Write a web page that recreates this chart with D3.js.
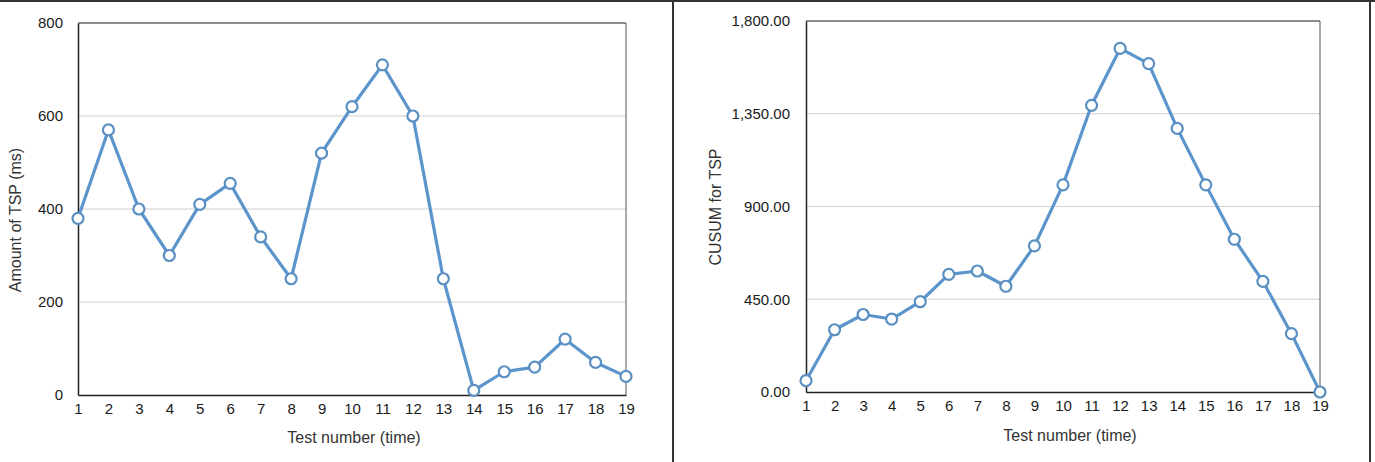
<!DOCTYPE html>
<html>
<head>
<meta charset="utf-8">
<script src="https://cdn.jsdelivr.net/npm/d3@7"></script>
<style>
    body { margin: 0; background: #fff; }
    svg text { font-family: "Liberation Sans", Arial, sans-serif; }
</style>
</head>
<body>
<svg id="chart" width="1375" height="462"></svg>
<script>
// test numbers shared by both charts
var testNumbers = [1, 2, 3, 4, 5, 6, 7, 8, 9, 10, 11, 12, 13, 14, 15, 16, 17, 18, 19];

// left chart: amount of TSP (ms)
var tspValues = [380, 570, 400, 300, 410, 455, 340, 250, 520, 620, 710, 600, 250, 10, 50, 60, 120, 70, 40];
var tspTicks = [0, 200, 400, 600, 800];

// right chart: CUSUM for TSP
var cusumValues = [55, 302, 376, 354, 438, 571, 587, 513, 709, 1005, 1391, 1667, 1593, 1279, 1005, 741, 537, 283, 0];
var cusumTicks = [0, 450, 900, 1350, 1800];

var svg = d3.select("#chart");
var lineColor = "#5b95cc";

// frame around the picture and the divider between the two panels
svg.append("line").attr("x1", 0).attr("x2", 1375).attr("y1", 1).attr("y2", 1)
    .attr("stroke", "#333").attr("stroke-width", 2);
svg.append("line").attr("x1", 1370).attr("x2", 1370).attr("y1", 0).attr("y2", 462)
    .attr("stroke", "#333").attr("stroke-width", 2);
svg.append("line").attr("x1", 673).attr("x2", 673).attr("y1", 0).attr("y2", 462)
    .attr("stroke", "#333").attr("stroke-width", 2);

function drawPanel(opts) {
    var x = d3.scaleLinear()
        .domain([1, 19])
        .range([opts.left, opts.right]);
    var y = d3.scaleLinear()
        .domain([0, d3.max(opts.ticks)])
        .range([opts.bottom, opts.top]);

    var g = svg.append("g");

    // gridlines
    g.selectAll(".grid")
        .data(opts.ticks.filter(t => t > 0 && t < d3.max(opts.ticks)))
        .enter()
        .append("line")
        .attr("x1", opts.left).attr("x2", opts.right)
        .attr("y1", d => y(d)).attr("y2", d => y(d))
        .attr("stroke", "#cfcfcf").attr("stroke-width", 1);

    // plot box
    g.append("line").attr("x1", opts.left).attr("x2", opts.right)
        .attr("y1", opts.top).attr("y2", opts.top)
        .attr("stroke", "#666").attr("stroke-width", 1.5);
    g.append("line").attr("x1", opts.right).attr("x2", opts.right)
        .attr("y1", opts.top).attr("y2", opts.bottom)
        .attr("stroke", "#555").attr("stroke-width", 1);

    // axes
    var leftAxis = d3.axisLeft(y).tickValues(opts.ticks).tickSize(0).tickPadding(opts.pad).tickFormat(opts.fmt);
    var bottomAxis = d3.axisBottom(x).tickValues(testNumbers).tickSize(0).tickPadding(8).tickFormat(d3.format("d"));

    var ya = g.append("g")
        .attr("transform", `translate(${opts.left}, 0)`)
        .call(leftAxis);
    var xa = g.append("g")
        .attr("transform", `translate(0, ${opts.bottom})`)
        .call(bottomAxis);

    [ya, xa].forEach(function (a) {
        a.attr("font-size", null).attr("font-family", null);
        a.select(".domain").attr("stroke", "#222").attr("stroke-width", 1.5);
        a.selectAll("text")
            .attr("fill", "#1a1a1a")
            .style("font-size", "15px");
    });

    // line and markers
    var pts = testNumbers.map((t, i) => ({ t: t, v: opts.values[i] }));
    var line = d3.line()
        .x(d => x(d.t))
        .y(d => y(d.v));

    g.append("path")
        .datum(pts)
        .attr("d", line)
        .attr("fill", "none")
        .attr("stroke", lineColor)
        .attr("stroke-width", 3.2)
        .attr("stroke-linejoin", "round");

    g.selectAll(".dot")
        .data(pts)
        .enter()
        .append("circle")
        .attr("cx", d => x(d.t))
        .attr("cy", d => y(d.v))
        .attr("r", 5.5)
        .attr("fill", "#fff")
        .attr("stroke", "#5a8fc2")
        .attr("stroke-width", 2.2);

    // titles
    g.append("text")
        .attr("x", opts.xTitleX)
        .attr("y", opts.xTitleY)
        .attr("text-anchor", "middle")
        .attr("fill", "#333")
        .style("font-size", "16px")
        .text("Test number (time)");

    g.append("text")
        .attr("transform", `translate(${opts.yTitleX}, ${opts.yTitleY}) rotate(-90)`)
        .attr("text-anchor", "middle")
        .attr("fill", "#333")
        .style("font-size", "16px")
        .text(opts.yTitle);
}

drawPanel({
    left: 78, right: 626, top: 23, bottom: 395,
    values: tspValues, ticks: tspTicks, pad: 15,
    fmt: d3.format("d"),
    xTitleX: 354, xTitleY: 443, yTitleX: 21, yTitleY: 220,
    yTitle: "Amount of TSP (ms)"
});

drawPanel({
    left: 806, right: 1320, top: 21, bottom: 392,
    values: cusumValues, ticks: cusumTicks, pad: 16,
    fmt: d3.format(",.2f"),
    xTitleX: 1070, xTitleY: 441, yTitleX: 721, yTitleY: 207,
    yTitle: "CUSUM for TSP"
});
</script>
</body>
</html>
